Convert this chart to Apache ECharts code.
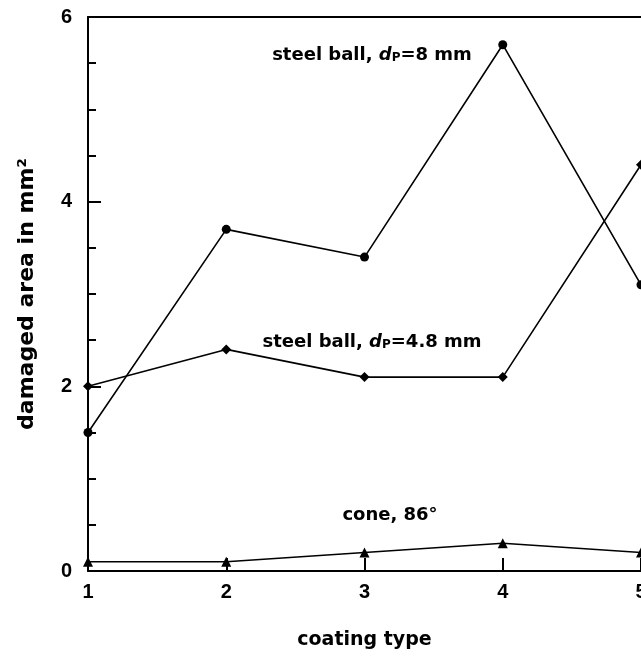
<!DOCTYPE html>
<html>
<head>
<meta charset="utf-8">
<script src="https://cdn.jsdelivr.net/npm/echarts@6/dist/echarts.min.js"></script>
<style>
html,body{margin:0;padding:0;background:#fff;}
#chart{width:641px;height:656px;}
</style>
</head>
<body>
<div id="chart"></div>
<script>
// Data
var coatingTypes = [1, 2, 3, 4, 5];
var steelBall8 = [1.5, 3.7, 3.4, 5.7, 3.1];
var steelBall48 = [2.0, 2.4, 2.1, 2.1, 4.4];
var cone86 = [0.1, 0.1, 0.2, 0.3, 0.2];
var yTickLabels = [0, 2, 4, 6];
var xTickLabels = [1, 2, 3, 4, 5];

function pairs(xs, ys) { return xs.map(function (x, i) { return [x, ys[i]]; }); }

var chart = echarts.init(document.getElementById('chart'), null, { renderer: 'canvas' });

var labelFont = 'DejaVu Sans';
var tickFont = 'Liberation Sans';
var lineStyle = { color: '#000', width: 1.6 };

function mkSeries(name, data, symbol, size) {
  return {
    name: name, type: 'line', data: pairs(coatingTypes, data),
    symbol: symbol, symbolSize: size, showSymbol: true,
    lineStyle: lineStyle, itemStyle: { color: '#000' },
    clip: false, animation: false, z: 3
  };
}

var option = {
  backgroundColor: '#fff',
  animation: false,
  grid: { left: 88, right: 0, top: 17, bottom: 85, containLabel: false, outerBoundsMode: 'none' },
  xAxis: [{
    type: 'value', min: 1, max: 5, interval: 1,
    axisLine: { show: true, onZero: false, lineStyle: { color: '#000', width: 2 } },
    axisTick: { show: true, inside: true, length: 13, lineStyle: { color: '#000', width: 2 } },
    splitLine: { show: false },
    axisLabel: {
      margin: 11, color: '#000', fontSize: 20, fontWeight: 'bold', fontFamily: tickFont,
      formatter: function (v) { return xTickLabels.indexOf(v) >= 0 ? String(v) : ''; }
    },
    name: 'coating type', nameLocation: 'middle', nameGap: 60,
    nameTextStyle: { color: '#000', fontSize: 19, fontWeight: 'bold', fontFamily: labelFont }
  }, {
    type: 'value', min: 1, max: 5, position: 'top',
    axisLine: { show: true, onZero: false, lineStyle: { color: '#000', width: 2 } },
    axisTick: { show: false }, axisLabel: { show: false }, splitLine: { show: false }
  }],
  yAxis: {
    type: 'value', min: 0, max: 6, interval: 2,
    axisLine: { show: true, onZero: false, lineStyle: { color: '#000', width: 2 } },
    axisTick: { show: true, inside: true, length: 13, lineStyle: { color: '#000', width: 2 } },
    minorTick: { show: true, splitNumber: 4, length: 8, lineStyle: { color: '#000', width: 2 } },
    splitLine: { show: false },
    axisLabel: {
      margin: 16, color: '#000', fontSize: 20, fontWeight: 'bold', fontFamily: tickFont,
      formatter: function (v) { return yTickLabels.indexOf(v) >= 0 ? String(v) : ''; }
    },
    name: 'damaged area in mm²', nameLocation: 'middle', nameGap: 50, nameRotate: 90,
    nameTextStyle: { color: '#000', fontSize: 22, fontWeight: 'bold', fontFamily: labelFont }
  },
  series: [
    mkSeries('steel ball, dP=8 mm', steelBall8, 'circle', 9),
    mkSeries('steel ball, dP=4.8 mm', steelBall48, 'diamond', 10),
    mkSeries('cone, 86°', cone86, 'triangle', 10)
  ]
};
chart.setOption(option);

var rich = {
  t: { fontFamily: labelFont, fontWeight: 'bold', fontSize: 18, color: '#000' },
  d: { fontFamily: labelFont, fontWeight: 'bold', fontStyle: 'italic', fontSize: 18, color: '#000' },
  p: { fontFamily: labelFont, fontWeight: 'bold', fontSize: 12, color: '#000', verticalAlign: 'bottom', padding: [4, 0, 0, 0] }
};
function annot(text, cx, cy) {
  return {
    type: 'text', x: cx, y: cy, z: 10,
    style: { text: text, rich: rich, align: 'center', verticalAlign: 'middle' }
  };
}
chart.setOption({
  graphic: [
    annot('{t|steel ball, }{d|d}{p|P}{t|=8 mm}', 372, 55),
    annot('{t|steel ball, }{d|d}{p|P}{t|=4.8 mm}', 372, 342),
    annot('{t|cone, 86°}', 390, 515)
  ]
});
</script>
</body>
</html>
